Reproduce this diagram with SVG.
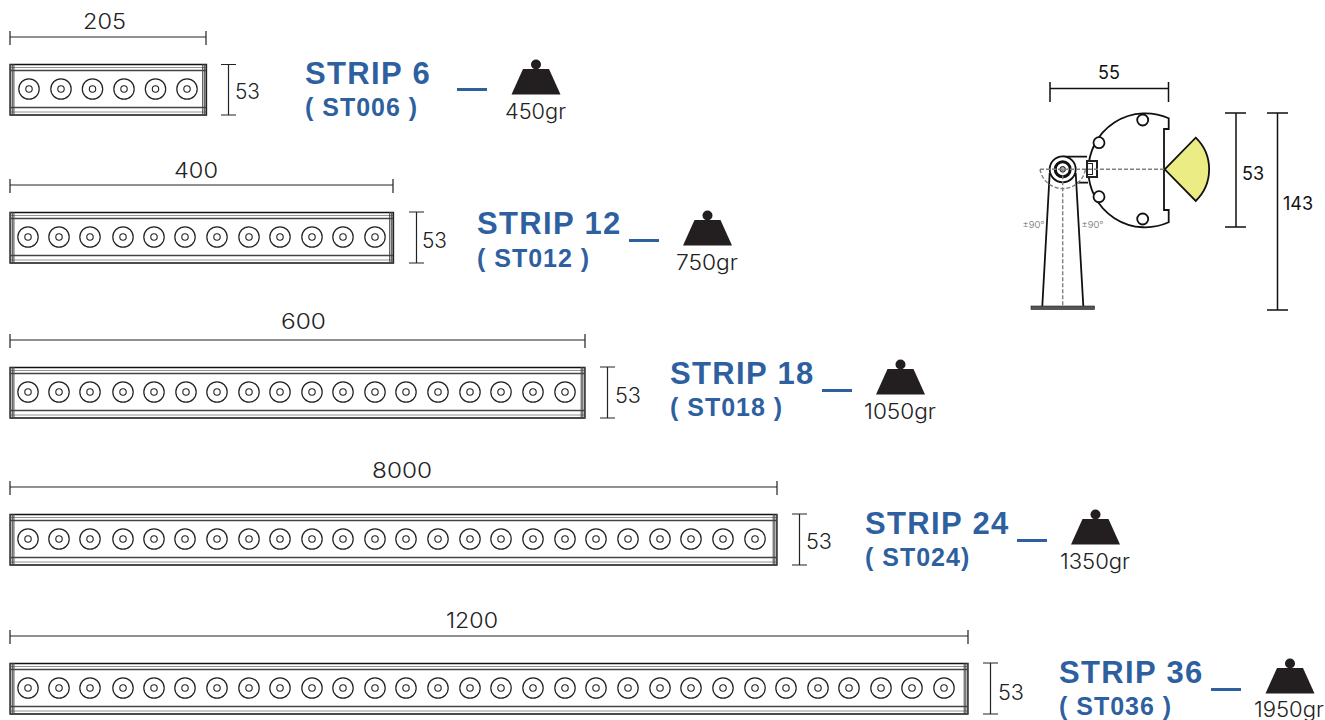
<svg xmlns="http://www.w3.org/2000/svg" xmlns:xlink="http://www.w3.org/1999/xlink" width="1325" height="720" viewBox="0 0 1325 720">
<style>
.dim{stroke:#222;stroke-width:1.2;fill:none}
.dim2{stroke:#111;stroke-width:1.5;fill:none}
.body{stroke:#111;stroke-width:1.3;fill:none}
.end{stroke:#444;stroke-width:1;fill:none}
.ln{stroke:#777;stroke-width:.8;fill:none}
.ln2{stroke:#444;stroke-width:1.5;fill:none}
.lab{font-family:Inter,"Open Sans",sans-serif;font-size:21px;font-weight:300;fill:#222}
.t1{font-family:"Liberation Sans",Arial,sans-serif;font-weight:700;font-size:31px;fill:#2e5f9f;letter-spacing:1.35px}
.t2{font-family:"Liberation Sans",Arial,sans-serif;font-weight:700;font-size:25px;fill:#2e5f9f;letter-spacing:1px}
.dash{fill:#2e5f9f}
.lab2{font-family:Inter,"Open Sans",sans-serif;font-size:18px;font-weight:400;fill:#111}
.deg{font-family:Inter,"Open Sans",sans-serif;font-size:9.500px;font-weight:300;fill:#666}
.gd{stroke:#808080;stroke-width:1.4;stroke-dasharray:4 2;fill:none}
.k{stroke:#111;stroke-width:1.8;fill:#fff}
.kn{stroke:#111;stroke-width:1.8;fill:none}
</style>
<defs>
<g id="led"><circle r="10.200" fill="none" stroke="#222" stroke-width="1.200"/><circle r="3.200" fill="none" stroke="#222" stroke-width="1.100"/></g>
<g id="wt"><circle cx="0" cy="5.500" r="5" fill="#231f20"/><path d="M-13 10H13L24.500 35.500H-24.500Z" fill="#231f20"/></g>
<g id="capL"><path class="end" d="M.7 0V51M2.300 0V51M3.900 0V51"/></g>
</defs>

<g id="connectors">
<path class="dim" d="M10 37H206M10 31V45M206 31V45"/>
<path class="dim" d="M10 185H393M10 179V193M393 179V193"/>
<path class="dim" d="M10 340H585M10 334V348M585 334V348"/>
<path class="dim" d="M10 487H777M10 481V495M777 481V495"/>
<path class="dim" d="M10 636H968M10 630V644M968 630V644"/>
<path class="dim" d="M228.500 64.500V115M221 64.500H236M221 115H236"/>
<path class="dim" d="M416.500 212V263M409 212H424M409 263H424"/>
<path class="dim" d="M607.500 367V418M600 367H615M600 418H615"/>
<path class="dim" d="M799.500 514V565M792 514H807M792 565H807"/>
<path class="dim" d="M990.500 663V714M983 663H998M983 714H998"/>
<path class="dash" d="M457 88h30v3h-30zM629 239h30v3h-30zM822 389h30v3h-30zM1017 539h30v3h-30zM1211 688h30v3h-30z"/>
</g>

<g id="strip6">
<g transform="translate(0,64)">
<path class="body" d="M10 .5H206.500V51H10Z"/>
<path class="ln" d="M10 3.500H206M10 48H206"/><path class="ln2" d="M10 6.500H206M10 43.500H206"/>
<use href="#capL" x="10"/><use href="#capL" x="202"/>
</g>
<use href="#led" x="29" y="89"/><use href="#led" x="61" y="89"/><use href="#led" x="92.500" y="89"/><use href="#led" x="124" y="89"/><use href="#led" x="155.500" y="89"/><use href="#led" x="187" y="89"/>
<text class="lab" x="83" y="29" textLength="43" lengthAdjust="spacingAndGlyphs">205</text>
<text class="lab" x="235" y="99" textLength="25" lengthAdjust="spacingAndGlyphs">53</text>
<text class="t1" x="305" y="84">STRIP 6</text>
<text class="t2" x="305" y="116">( ST006 )</text>
<use href="#wt" x="536" y="59"/>
<text class="lab" x="505" y="119" textLength="61" lengthAdjust="spacingAndGlyphs">450gr</text>
</g>

<g id="strip12">
<g transform="translate(0,212)">
<path class="body" d="M10 .5H393.500V51H10Z"/>
<path class="ln" d="M10 3.500H393M10 48H393"/><path class="ln2" d="M10 6.500H393M10 43.500H393"/>
<use href="#capL" x="10"/><use href="#capL" x="389"/>
</g>
<g id="leds12"><use href="#led" x="28" y="237"/><use href="#led" x="59" y="237"/><use href="#led" x="90" y="237"/><use href="#led" x="123" y="237"/><use href="#led" x="154" y="237"/><use href="#led" x="185" y="237"/><use href="#led" x="217" y="237"/><use href="#led" x="249" y="237"/><use href="#led" x="280" y="237"/><use href="#led" x="312" y="237"/><use href="#led" x="343" y="237"/><use href="#led" x="375" y="237"/></g>
<text class="lab" x="174" y="178" textLength="44" lengthAdjust="spacingAndGlyphs">400</text>
<text class="lab" x="422" y="248" textLength="25" lengthAdjust="spacingAndGlyphs">53</text>
<text class="t1" x="477" y="234">STRIP 12</text>
<text class="t2" x="477" y="267">( ST012 )</text>
<use href="#wt" x="707.500" y="210"/>
<text class="lab" x="676" y="270" textLength="62" lengthAdjust="spacingAndGlyphs">750gr</text>
</g>

<g id="strip18">
<g transform="translate(0,367)">
<path class="body" d="M10 .5H585V51H10Z"/>
<path class="ln" d="M10 3.500H585M10 48H585"/><path class="ln2" d="M10 6.500H585M10 43.500H585"/>
<use href="#capL" x="10"/><use href="#capL" x="580.500"/>
</g>
<g id="leds18"><use href="#led" x="28" y="392"/><use href="#led" x="59" y="392"/><use href="#led" x="90" y="392"/><use href="#led" x="123" y="392"/><use href="#led" x="154" y="392"/><use href="#led" x="186" y="392"/><use href="#led" x="217" y="392"/><use href="#led" x="249" y="392"/><use href="#led" x="280" y="392"/><use href="#led" x="312" y="392"/><use href="#led" x="343" y="392"/><use href="#led" x="375" y="392"/><use href="#led" x="406" y="392"/><use href="#led" x="438" y="392"/><use href="#led" x="470" y="392"/><use href="#led" x="501" y="392"/><use href="#led" x="533" y="392"/><use href="#led" x="565" y="392"/></g>
<text class="lab" x="281" y="329" textLength="45" lengthAdjust="spacingAndGlyphs">600</text>
<text class="lab" x="615" y="403" textLength="26" lengthAdjust="spacingAndGlyphs">53</text>
<text class="t1" x="670" y="384">STRIP 18</text>
<text class="t2" x="670" y="416">( ST018 )</text>
<use href="#wt" x="900.500" y="359"/>
<text class="lab" x="864" y="419" textLength="72" lengthAdjust="spacingAndGlyphs">1050gr</text>
</g>

<g id="strip24">
<g transform="translate(0,514)">
<path class="body" d="M10 .5H777V51H10Z"/>
<path class="ln" d="M10 3.500H777M10 48H777"/><path class="ln2" d="M10 6.500H777M10 43.500H777"/>
<use href="#capL" x="10"/><use href="#capL" x="772.500"/>
</g>
<g id="leds24"><use href="#led" x="28" y="539"/><use href="#led" x="59" y="539"/><use href="#led" x="90" y="539"/><use href="#led" x="123" y="539"/><use href="#led" x="154" y="539"/><use href="#led" x="185" y="539"/><use href="#led" x="217" y="539"/><use href="#led" x="249" y="539"/><use href="#led" x="280" y="539"/><use href="#led" x="312" y="539"/><use href="#led" x="343" y="539"/><use href="#led" x="375" y="539"/><use href="#led" x="406" y="539"/><use href="#led" x="438" y="539"/><use href="#led" x="470" y="539"/><use href="#led" x="501" y="539"/><use href="#led" x="533" y="539"/><use href="#led" x="565" y="539"/><use href="#led" x="596" y="539"/><use href="#led" x="628" y="539"/><use href="#led" x="660" y="539"/><use href="#led" x="691" y="539"/><use href="#led" x="723" y="539"/><use href="#led" x="755" y="539"/></g>
<text class="lab" x="372" y="478" textLength="60" lengthAdjust="spacingAndGlyphs">8000</text>
<text class="lab" x="806" y="549" textLength="26" lengthAdjust="spacingAndGlyphs">53</text>
<text class="t1" x="865" y="534">STRIP 24</text>
<text class="t2" x="865" y="566">( ST024)</text>
<use href="#wt" x="1095.500" y="509"/>
<text class="lab" x="1060" y="569" textLength="70" lengthAdjust="spacingAndGlyphs">1350gr</text>
</g>

<g id="strip36">
<g transform="translate(0,663)">
<path class="body" d="M10 .5H968V51H10Z"/>
<path class="ln" d="M10 3.500H968M10 48H968"/><path class="ln2" d="M10 6.500H968M10 43.500H968"/>
<use href="#capL" x="10"/><use href="#capL" x="963.500"/>
</g>
<g id="leds36"><use href="#led" x="28" y="688"/><use href="#led" x="59" y="688"/><use href="#led" x="90" y="688"/><use href="#led" x="123" y="688"/><use href="#led" x="154" y="688"/><use href="#led" x="185" y="688"/><use href="#led" x="217" y="688"/><use href="#led" x="249" y="688"/><use href="#led" x="280" y="688"/><use href="#led" x="312" y="688"/><use href="#led" x="343" y="688"/><use href="#led" x="375" y="688"/><use href="#led" x="406" y="688"/><use href="#led" x="438" y="688"/><use href="#led" x="470" y="688"/><use href="#led" x="501" y="688"/><use href="#led" x="533" y="688"/><use href="#led" x="565" y="688"/><use href="#led" x="596" y="688"/><use href="#led" x="628" y="688"/><use href="#led" x="660" y="688"/><use href="#led" x="691" y="688"/><use href="#led" x="723" y="688"/><use href="#led" x="755" y="688"/><use href="#led" x="786" y="688"/><use href="#led" x="818" y="688"/><use href="#led" x="849" y="688"/><use href="#led" x="881" y="688"/><use href="#led" x="912" y="688"/><use href="#led" x="944" y="688"/></g>
<text class="lab" x="446" y="628" textLength="52" lengthAdjust="spacingAndGlyphs">1200</text>
<text class="lab" x="998" y="700" textLength="26" lengthAdjust="spacingAndGlyphs">53</text>
<text class="t1" x="1059" y="683">STRIP 36</text>
<text class="t2" x="1059" y="715">( ST036 )</text>
<use href="#wt" x="1290" y="658"/>
<text class="lab" x="1254" y="717" textLength="70" lengthAdjust="spacingAndGlyphs">1950gr</text>
</g>

<g id="side-view">
<path class="dim2" d="M1050 88.500H1168.500M1050 82V102M1168.500 82V102"/>
<path class="dim2" d="M1236 113V227M1225 113H1246M1225 227H1246M1277.500 113V310M1267 113H1288M1267 310H1288"/>
<text class="lab2" x="1098" y="79">55</text>
<text class="lab2" x="1242" y="180">53</text>
<text class="lab2" x="1283" y="210">143</text>
<path d="M1164.700 169.300L1195.700 137.700A44 44 0 0 1 1195.700 201Z" fill="#ecec84" stroke="#111" stroke-width="1.800"/>
<path class="k" d="M1168.700 118.300V129H1164V210H1168.700V222.300A57 57 0 1 1 1168.700 118.300Z"/>
<circle class="k" cx="1142.700" cy="120" r="5.500"/><circle class="k" cx="1099" cy="142.700" r="5.500"/><circle class="k" cx="1099" cy="196.700" r="5.500"/><circle class="k" cx="1142.700" cy="219" r="5.500"/>
<path d="M1062.700 156.700H1086V182.700H1076L1072 190H1053Z" fill="#fff" stroke="none"/>
<path class="kn" d="M1062.700 156.700H1087M1076 182.700H1088"/>
<path class="kn" d="M1049.700 173L1042.300 306M1075.700 173L1083.300 306"/>
<circle cx="1062.700" cy="169.300" r="13" fill="#fff" stroke="#111" stroke-width="1.800"/>
<circle cx="1062.700" cy="169.300" r="7.500" fill="#fff" stroke="#111" stroke-width="3"/>
<circle cx="1062.700" cy="169.300" r="2.800" fill="#aaa" stroke="#111" stroke-width="1"/>
<rect x="1087" y="161" width="10" height="16" fill="#fff" stroke="#222" stroke-width="2"/>
<rect x="1087.500" y="163.500" width="5" height="11" fill="none" stroke="#222" stroke-width="1"/>
<rect x="1031" y="306" width="63.500" height="3.500" fill="#555" stroke="#222" stroke-width=".6"/>
<path class="gd" d="M1040 169.300H1164M1062.700 169.300V306"/>
<path class="gd" d="M1040 169.300A23 23 0 0 0 1085.400 169.300" stroke-width="2"/>
<text class="deg" x="1022.500" y="227.500">±90°</text>
<text class="deg" x="1081.500" y="227.500">±90°</text>
</g>
</svg>
